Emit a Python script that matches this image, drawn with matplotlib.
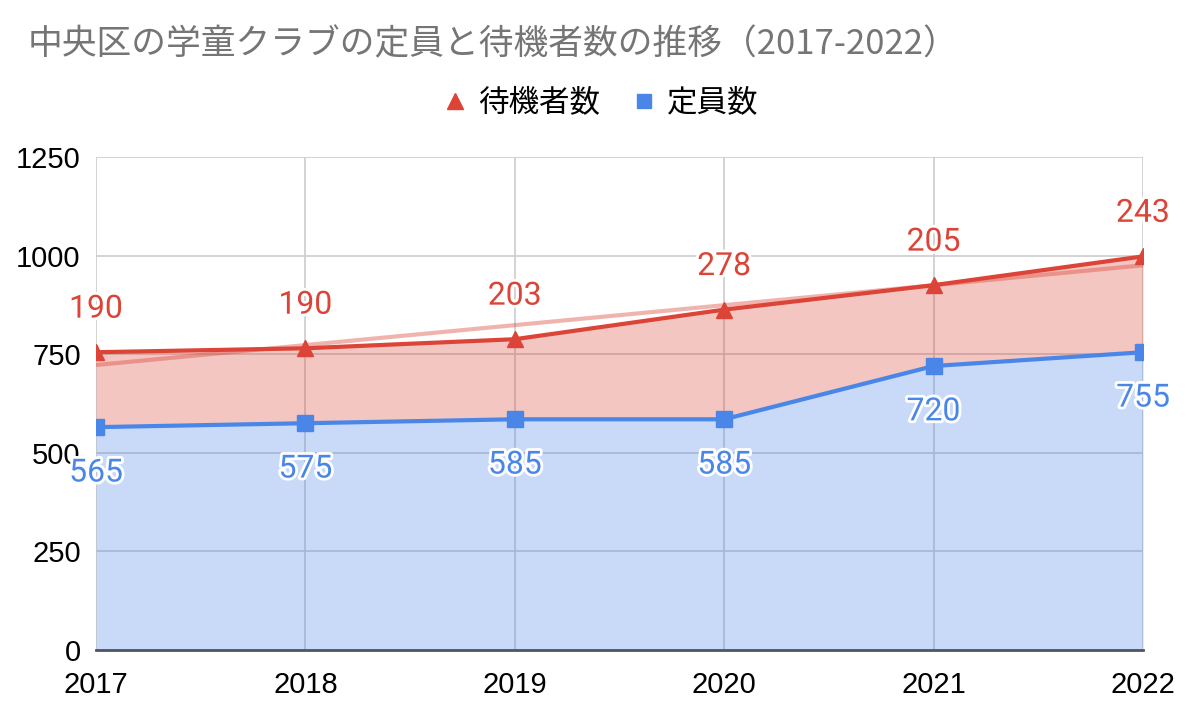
import matplotlib
matplotlib.use("Agg")
import matplotlib.pyplot as plt
import matplotlib.patheffects as pe
from matplotlib.lines import Line2D
import numpy as np

plt.rcParams['font.family'] = ['Noto Sans CJK JP', 'DejaVu Sans']

years = [2017, 2018, 2019, 2020, 2021, 2022]
capacity = [565, 575, 585, 585, 720, 755]      # 定員数
waiting = [190, 190, 203, 278, 205, 243]       # 待機者数
yticks = [0, 250, 500, 750, 1000, 1250]

title = "中央区の学童クラブの定員と待機者数の推移（2017-2022）"
name_wait = "待機者数"
name_cap = "定員数"

RED = "#db4437"
BLUE = "#4a86e8"

fig = plt.figure(figsize=(12, 7.22), dpi=100)
ax = fig.add_axes([96/1200, 1-650/722, (1143-96)/1200, (650-157)/722])

x = np.array(years)
cap = np.array(capacity)
total = cap + np.array(waiting)

ax.fill_between(x, 0, cap, color=BLUE, alpha=0.3, lw=0, zorder=2)
ax.fill_between(x, cap, total, color=RED, alpha=0.3, lw=0, zorder=2)

# linear trendline of stacked top series
coef = np.polyfit(x, total, 1)
ax.plot(x, np.polyval(coef, x), color=RED, alpha=0.4, lw=3, zorder=3, solid_capstyle='butt')

ax.plot(x, cap, color=BLUE, lw=3, marker='s', ms=11, zorder=4)
ax.plot(x, total, color=RED, lw=3, marker='^', ms=12, zorder=4)

stroke = [pe.withStroke(linewidth=4, foreground='white')]
for xi, c, t, w in zip(x, cap, total, waiting):
    ax.annotate(str(w), (xi, t), xytext=(0, 31), textcoords='offset points',
                ha='center', va='center', color=RED, fontsize=23,
                family=['Roboto', 'DejaVu Sans'], path_effects=stroke, zorder=6,
                annotation_clip=False)
    ax.annotate(str(c), (xi, c), xytext=(0, -33), textcoords='offset points',
                ha='center', va='center', color=BLUE, fontsize=23,
                family=['Roboto', 'DejaVu Sans'], path_effects=stroke, zorder=6,
                annotation_clip=False)

ax.set_xlim(years[0], years[-1])
ax.set_ylim(0, 1250)
ax.set_yticks(yticks)
ax.set_xticks(years)
ax.set_xticklabels([str(y) for y in years], family=['Liberation Sans', 'DejaVu Sans'], fontsize=21)
ax.set_yticklabels([str(v) for v in yticks], family=['Liberation Sans', 'DejaVu Sans'], fontsize=21)
ax.tick_params(axis='both', length=0, colors='black')
ax.tick_params(axis='x', pad=15)
ax.tick_params(axis='y', pad=11)
ax.grid(True, color='#cccccc', lw=1.2, zorder=1)
ax.set_axisbelow(True)
for s in ['top', 'right', 'left']:
    ax.spines[s].set_visible(False)
ax.spines['bottom'].set_color('#4d5566')
ax.spines['bottom'].set_linewidth(2)
ax.spines['bottom'].set_zorder(5)

fig.text(28/1200, 1-45/722, title, ha='left', va='center', fontsize=25, color='#757575')

handles = [Line2D([], [], color=RED, marker='^', ls='none', ms=12),
           Line2D([], [], color=BLUE, marker='s', ls='none', ms=10)]
fig.legend(handles, [name_wait, name_cap], loc='center', bbox_to_anchor=(0.5, 1-103/722),
           ncol=2, frameon=False, fontsize=22, handlelength=0.9, handletextpad=0.3,
           columnspacing=1.0)

fig.savefig("out.png", dpi=100)
